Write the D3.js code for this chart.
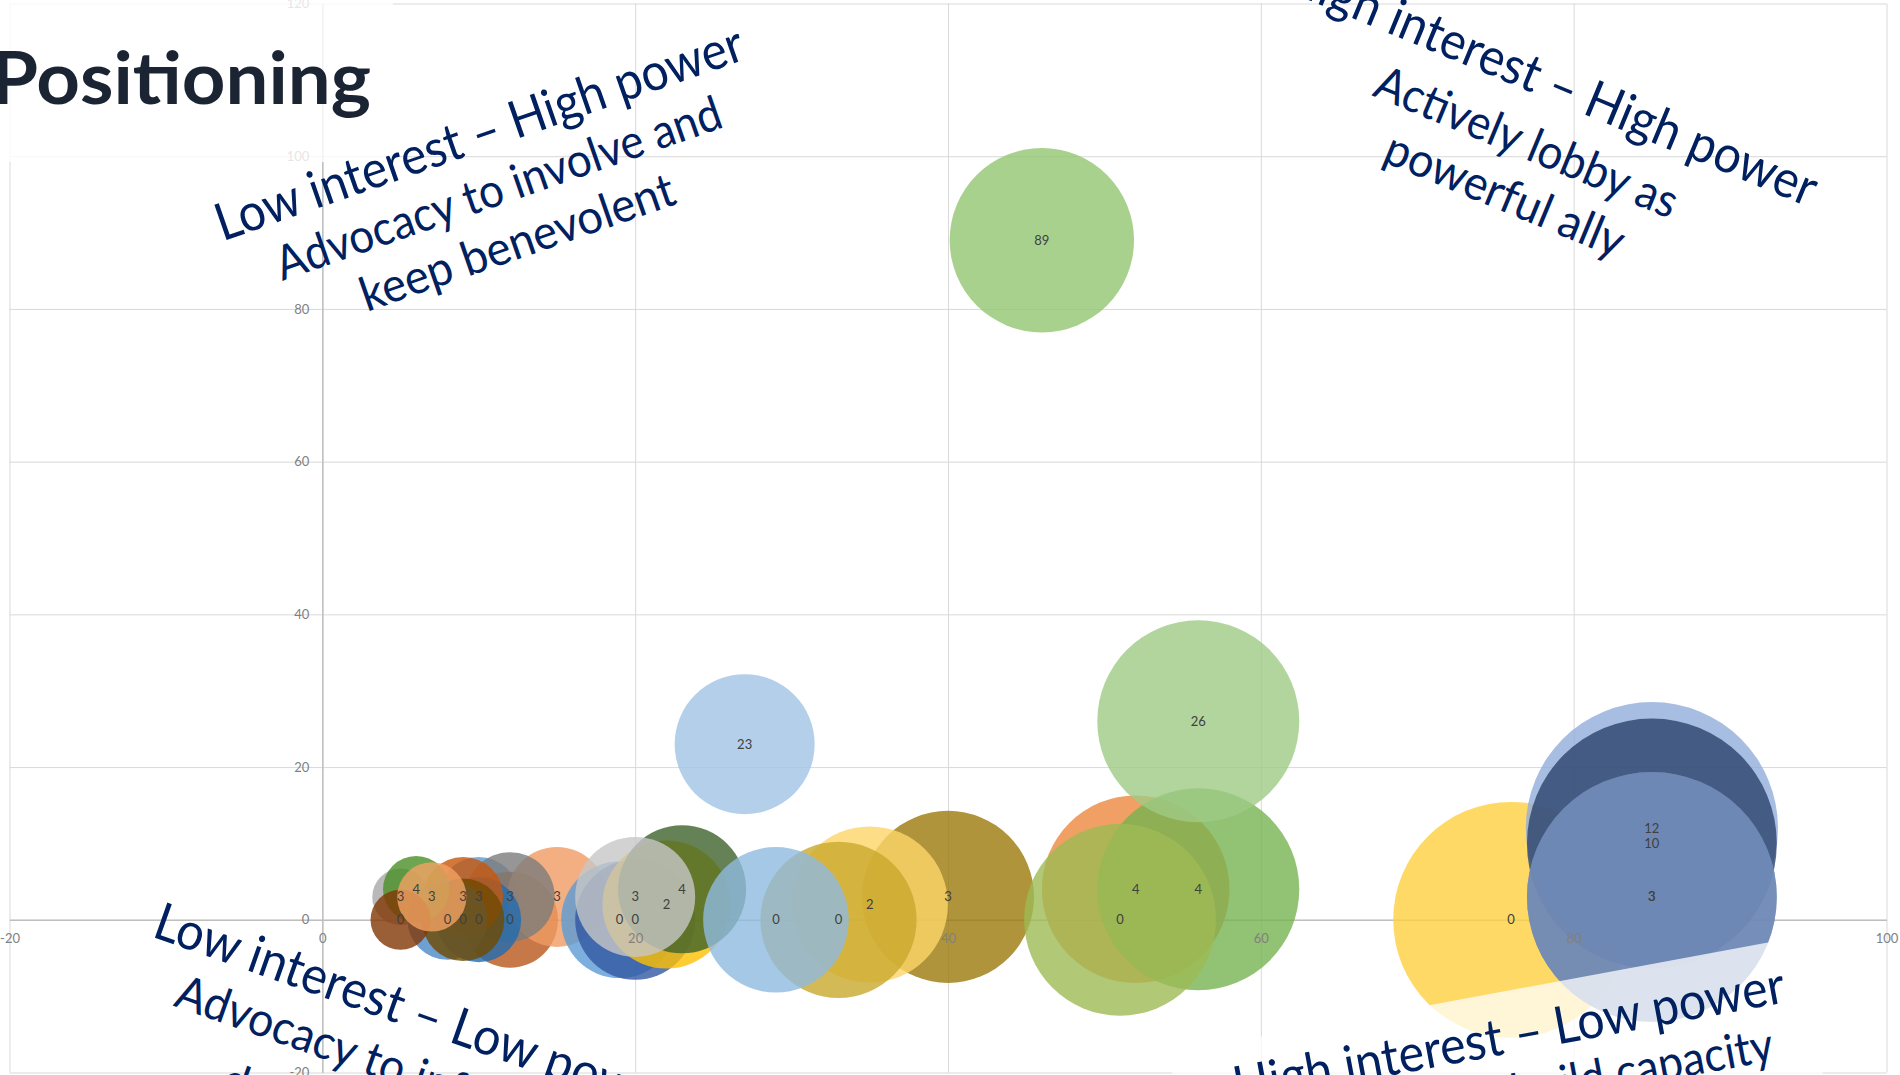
<!DOCTYPE html>
<html lang="en">
<head>
<meta charset="UTF-8">
<title>Positioning</title>
<style>
  html, body { margin: 0; padding: 0; background: #fff; overflow: hidden; }
  svg { display: block; }
</style>
<script src="https://d3js.org/d3.v7.min.js"></script>
</head>
<body>
<script>
const width = 1900;
const height = 1075;

// bubbles, in drawing order: interest (x), power (y), bubble size
const interest   = [10, 12, 15, 12, 10, 9, 8, 9, 5, 6, 5, 7,
                    19, 20, 22, 23, 20, 40, 35, 33, 29, 27,
                    46, 52, 56, 56, 51, 76, 85, 85, 85, 85];
const power      = [3, 0, 3, 3, 0, 3, 0, 0, 3, 4, 0, 3,
                    0, 0, 2, 4, 3, 3, 2, 0, 0, 23,
                    89, 4, 4, 26, 0, 0, 12, 10, 3, 3];
const bubbleSize = [16, 23, 25, 20, 18, 16, 16, 17, 8, 11, 9, 12,
                    34, 36, 41, 41, 36, 74, 61, 61, 53, 49,
                    85, 88, 102, 102, 92, 139, 159, 156, 156, 156];

const xTicks = [-20, 0, 20, 40, 60, 80, 100];
const yTicks = [-20, 0, 20, 40, 60, 80, 100, 120];

const titleText = "Positioning";
const lowHighText  = ["Low interest – High power", "Advocacy to involve and", "keep benevolent"];
const highHighText = ["High interest – High power", "Actively lobby as", "powerful ally"];
const lowLowText   = ["Low interest – Low power", "Advocacy to inform and", "develop interest"];
const highLowText  = ["High interest – Low power", "Advocacy to build capacity"];

// styles
const bubbleColors = [
  "#5b9bd5", "#b8561a", "#f09b63", "#7c7c7c", "#1f6bb0", "#c7560b", "#4a88c7", "#6f4a00",
  "#a8a8a8", "#4a8f24", "#823705", "#f2a163",
  "#5b9bd5", "#3157a3", "#ffc000", "#3d632b", "#c7c7c7", "#9b790b", "#fcd669", "#c9a92c",
  "#8ebae0", "#a1c3e5",
  "#94c672", "#ec883d", "#77b350", "#9fca85", "#9eba54", "#ffcf40", "#92acdb", "#2a426d",
  "#6f89b7", "#6f89b7"
];
const navy = "#002060";
const font = "Lato, 'Open Sans', sans-serif";

const svg = d3.select("body").append("svg")
    .attr("width", width)
    .attr("height", height);

const x = d3.scaleLinear().domain([-20, 100]).range([9.5, 1886.5]);
const y = d3.scaleLinear().domain([-20, 120]).range([1072.5, 3.5]);
const r = d3.scaleSqrt().domain([0, 100]).range([0, 100]);

// gridlines
svg.append("g")
    .attr("transform", `translate(0,${y(-20)})`)
    .call(d3.axisBottom(x).tickValues(xTicks).tickSize(-(y(-20) - y(120))).tickFormat(""))
    .call(g => g.select(".domain").remove())
    .call(g => g.selectAll("line").attr("stroke", "#d9d9d9"));

svg.append("g")
    .attr("transform", `translate(${x(-20)},0)`)
    .call(d3.axisLeft(y).tickValues(yTicks).tickSize(-(x(100) - x(-20))).tickFormat(""))
    .call(g => g.select(".domain").remove())
    .call(g => g.selectAll("line").attr("stroke", "#d9d9d9"));

// axis lines through zero
svg.append("g")
    .attr("transform", `translate(${x(0)},0)`)
    .call(d3.axisLeft(y).tickValues([]).tickSizeOuter(0))
    .call(g => g.select(".domain").attr("stroke", "#bfbfbf").attr("stroke-width", 1.5));

svg.append("g")
    .attr("transform", `translate(0,${y(0)})`)
    .call(d3.axisBottom(x).tickValues([]).tickSizeOuter(0))
    .call(g => g.select(".domain").attr("stroke", "#bfbfbf").attr("stroke-width", 1.5));

// bubbles
const idx = d3.range(interest.length);

svg.append("g")
  .selectAll("circle")
  .data(idx)
  .join("circle")
    .attr("cx", i => x(interest[i]))
    .attr("cy", i => y(power[i]))
    .attr("r", i => r(bubbleSize[i]))
    .attr("fill", i => bubbleColors[i])
    .attr("fill-opacity", 0.8);

svg.append("g")
  .selectAll("text")
  .data(idx)
  .join("text")
    .attr("x", i => x(interest[i]))
    .attr("y", i => y(power[i]))
    .attr("dy", "0.35em")
    .attr("text-anchor", "middle")
    .attr("font-family", font)
    .attr("font-size", 13)
    .attr("fill", "#404040")
    .text(i => power[i]);

// tick labels on top
svg.append("g")
    .attr("transform", `translate(${x(0)},0)`)
    .call(d3.axisLeft(y).tickValues(yTicks).tickSize(0).tickPadding(13).tickFormat(d => String(d)))
    .call(g => g.select(".domain").remove())
    .call(g => g.selectAll("text").attr("font-family", font).attr("font-size", 13).attr("fill", "#808080"));

svg.append("g")
    .attr("transform", `translate(0,${y(0)})`)
    .call(d3.axisBottom(x).tickValues(xTicks).tickSize(0).tickPadding(14).tickFormat(d => String(d)))
    .call(g => g.select(".domain").remove())
    .call(g => g.selectAll("text").attr("font-family", font).attr("font-size", 13).attr("fill", "#808080"));

// title box
svg.append("rect")
    .attr("x", 0).attr("y", 0)
    .attr("width", 393).attr("height", 162)
    .attr("fill", "#fff").attr("opacity", 0.8);

svg.append("text")
    .attr("x", 371).attr("y", 104)
    .attr("text-anchor", "end")
    .attr("font-family", font)
    .attr("font-weight", 700)
    .attr("font-size", 72)
    .attr("fill", "#1b2433")
    .attr("textLength", 380)
    .attr("lengthAdjust", "spacingAndGlyphs")
    .text(titleText);

// rotated quadrant notes
function note(lines, cx, cy, angle, offsets, lengths, sizes, box) {
  const g = svg.append("g").attr("transform", `translate(${cx},${cy}) rotate(${angle})`);
  if (box) {
    g.append("rect")
        .attr("x", box[0]).attr("y", box[1])
        .attr("width", box[2]).attr("height", box[3])
        .attr("fill", "#fff").attr("opacity", 0.75);
  }
  lines.forEach((t, i) => {
    g.append("text")
        .attr("x", 0)
        .attr("y", offsets[i])
        .attr("text-anchor", "middle")
        .attr("font-family", font)
        .attr("font-size", sizes[i])
        .attr("fill", navy)
        .attr("textLength", lengths[i])
        .attr("lengthAdjust", "spacingAndGlyphs")
        .text(t);
  });
}

note(lowHighText, 485, 150, -19.2, [0, 57, 114], [556, 469, 330], [52, 47.5, 47.5]);
note(highHighText, 1545, 98, 22.5, [0, 64, 121], [570, 323, 255], [52, 47.5, 47.5]);
note(lowLowText, 410, 1028, 19.5, [0, 58, 125], [550, 463, 318], [52, 47.5, 47.5]);
note(highLowText, 1512, 1053, -10.5, [0, 55], [560, 516], [52, 47.5], [-338, -62, 640, 220]);
</script>
</body>
</html>
